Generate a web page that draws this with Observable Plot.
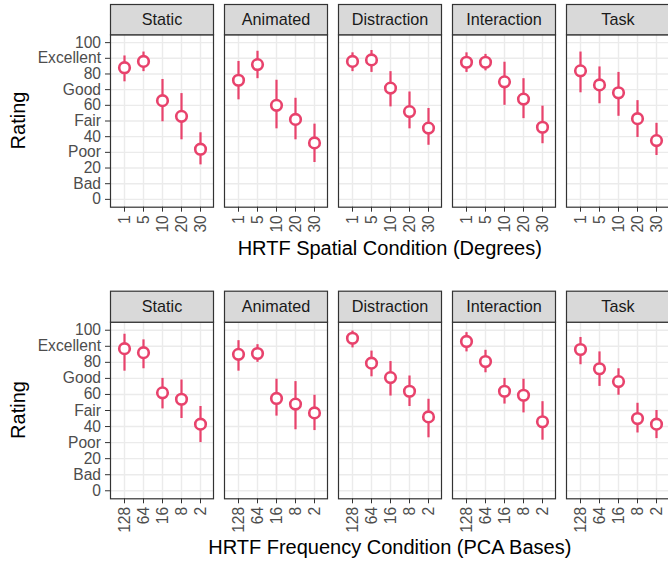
<!DOCTYPE html>
<html>
<head>
<meta charset="utf-8">
<script src="https://cdn.jsdelivr.net/npm/d3@7"></script>
<script src="https://cdn.jsdelivr.net/npm/@observablehq/plot@0.6"></script>
<style>
  html, body { margin: 0; padding: 0; background: #fff; overflow: hidden; }
  #chart { width: 668px; height: 563px; overflow: hidden; }
  #chart svg { display: block; max-width: none !important; height: auto; }
</style>
</head>
<body>
<div id="chart"></div>
<script>
// ---------- data ----------
const conditions = ["Static", "Animated", "Distraction", "Interaction", "Task"];

const spatialLevels = ["1", "5", "10", "20", "30"];
const spatialMean = [
  [84, 88, 63, 53, 32],
  [76, 86, 60, 51, 36],
  [88, 89, 71, 56, 45.5],
  [87.5, 87.5, 75, 64, 46],
  [82, 73, 68, 51.5, 37.5]
];
const spatialLo = [
  [75, 81.5, 49.5, 38, 22],
  [63.5, 77, 45, 38, 23.5],
  [81.5, 81, 59, 45, 34.5],
  [81, 82, 60, 51.5, 35.5],
  [68, 61, 53, 39.5, 28]
];
const spatialHi = [
  [91.5, 94, 76.5, 67.5, 42.5],
  [88, 94.5, 76, 64.5, 48],
  [93.5, 95, 81.5, 68.5, 58],
  [93.5, 92.5, 87.5, 77, 59.5],
  [94, 84.5, 81, 63, 48.5]
];

const freqLevels = ["128", "64", "16", "8", "2"];
const freqMean = [
  [88.5, 86, 61, 57, 41.5],
  [85, 85.5, 57.5, 54, 48.5],
  [95, 79.5, 70.5, 62, 46],
  [93, 80.5, 62, 59.5, 43],
  [88, 76, 68, 45, 41.5]
];
const freqLo = [
  [74.5, 76, 51, 45, 30],
  [74.5, 80, 46.5, 38, 37.5],
  [89, 71, 59, 52.5, 33],
  [86.5, 73.5, 54, 48.5, 31.5],
  [78.5, 65, 59.5, 36, 32.5]
];
const freqHi = [
  [97.5, 94, 70, 69, 52.5],
  [93.5, 91, 69.5, 68, 59.5],
  [99.5, 87, 80.5, 71.5, 57],
  [98.5, 87.5, 70, 69.5, 55.5],
  [95.5, 86.5, 76, 54.5, 50]
];

const yTicks = [0, 10, 20, 30, 40, 50, 60, 70, 80, 90, 100];
const yTickLabels = ["0", "Bad", "20", "Poor", "40", "Fair", "60", "Good", "80", "Excellent", "100"];

const spatialTitle = "HRTF Spatial Condition (Degrees)";
const freqTitle = "HRTF Frequency Condition (PCA Bases)";
const yTitle = "Rating";

// ---------- helpers ----------
function rows(levels, mean, lo, hi) {
  return conditions.flatMap((c, i) => levels.map((l, j) => ({
    cond: c, level: l, mean: mean[i][j], lo: lo[i][j], hi: hi[i][j]
  })));
}

const COLOR = "#e8426c";
const FONT = "'Liberation Sans', Arial, Helvetica, sans-serif";

function panelRow({data, levels, height, marginTop, marginBottom, stripH, title, titleY}) {
  const panelH = height - marginTop - marginBottom;
  const svg = Plot.plot({
    width: 680,
    height,
    marginLeft: 110,
    marginRight: 10.5,
    marginTop,
    marginBottom,
    style: {fontFamily: FONT, background: "white", overflow: "visible", maxWidth: "none"},
    fx: {domain: conditions, paddingInner: 0.094, paddingOuter: 0, axis: null, label: null},
    x: {type: "point", domain: levels, padding: 0.6, label: null},
    y: {domain: [-5, 105], label: null},
    marks: [
      Plot.gridY({ticks: yTicks, stroke: "#ebebeb", strokeOpacity: 1, strokeWidth: 1.4}),
      Plot.gridX({stroke: "#ebebeb", strokeOpacity: 1, strokeWidth: 1.4}),
      Plot.axisY({
        ticks: yTicks,
        tickFormat: (d) => yTickLabels[yTicks.indexOf(d)],
        tickSize: 5, tickPadding: 4.5,
        stroke: "#333333", fill: "#4d4d4d", fontSize: 15.6, label: null
      }),
      Plot.axisX({
        tickRotate: -90, tickSize: 5, tickPadding: 3,
        stroke: "#333333", fill: "#4d4d4d", fontSize: 15.6, label: null
      }),
      Plot.ruleX(data, {fx: "cond", x: "level", y1: "lo", y2: "hi", stroke: COLOR, strokeWidth: 2.2}),
      Plot.dot(data, {fx: "cond", x: "level", y: "mean", r: 5.3, stroke: COLOR, strokeWidth: 2.6, fill: "white"}),
      Plot.frame({stroke: "#333333", strokeWidth: 1.2}),
      Plot.frame({fill: "#d9d9d9", stroke: "#333333", strokeWidth: 1.2, insetTop: -stripH, insetBottom: panelH}),
      Plot.text(conditions, {fx: (d) => d, text: (d) => d, frameAnchor: "top", lineAnchor: "middle", dy: -stripH / 2, fontSize: 16.2, fill: "#1a1a1a"})
    ]
  });
  svg.style.maxWidth = "none";
  const s = d3.select(svg);
  s.append("text")
    .attr("x", (110 + 669.5) / 2)
    .attr("y", titleY)
    .attr("text-anchor", "middle")
    .attr("font-size", 20)
    .attr("fill", "#000")
    .text(title);
  s.append("text")
    .attr("transform", `translate(25, ${marginTop + panelH / 2}) rotate(-90)`)
    .attr("text-anchor", "middle")
    .attr("font-size", 20)
    .attr("fill", "#000")
    .text(yTitle);
  return svg;
}

const chart = document.getElementById("chart");
chart.appendChild(panelRow({
  data: rows(spatialLevels, spatialMean, spatialLo, spatialHi),
  levels: spatialLevels,
  height: 268, marginTop: 34.3, marginBottom: 61.3, stripH: 30.3,
  title: spatialTitle, titleY: 255
}));
chart.appendChild(panelRow({
  data: rows(freqLevels, freqMean, freqLo, freqHi),
  levels: freqLevels,
  height: 295, marginTop: 53.7, marginBottom: 64.7, stripH: 31,
  title: freqTitle, titleY: 286
}));
</script>
</body>
</html>
